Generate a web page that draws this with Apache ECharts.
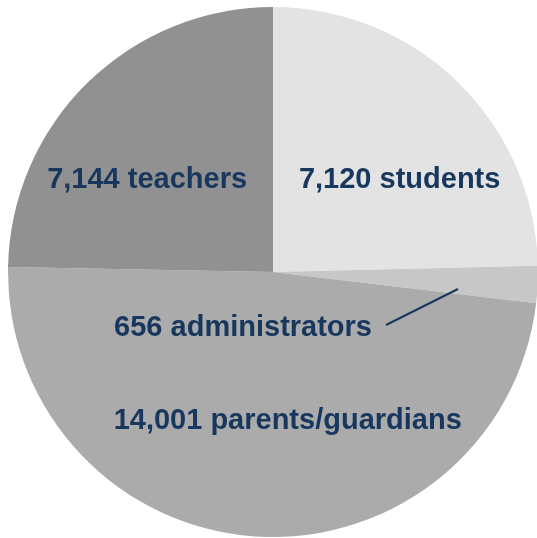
<!DOCTYPE html>
<html>
<head>
<meta charset="utf-8">
<script src="https://cdn.jsdelivr.net/npm/echarts@6/dist/echarts.min.js"></script>
<style>
  html, body { margin: 0; padding: 0; background: #fff; }
  #chart { width: 537px; height: 538px; }
</style>
</head>
<body>
<div id="chart"></div>
<script>
// slice data, clockwise from 12 o'clock
const groups = ['students', 'administrators', 'parents/guardians', 'teachers']
const counts = [7120, 656, 14001, 7144]
const colors = ['#e3e3e3', '#c7c7c7', '#ababab', '#919191']
// label nudges for the inside labels
const labelOffsets = [[32, 5], null, [24, 14], [-31, 5]]

const cx = 273
const cy = 272
const R = 265
const textColor = '#17375e'

const chart = echarts.init(document.getElementById('chart'))

const data = groups.map((g, i) => {
  const item = {
    name: g,
    value: counts[i],
    itemStyle: { color: colors[i] }
  }
  if (labelOffsets[i]) {
    item.label = { position: 'inside', offset: labelOffsets[i] }
  } else {
    item.label = { position: 'outside' }
  }
  return item
})

chart.setOption({
  animation: false,
  // leader line for the small slice, placed relative to the pie centre
  graphic: [
    {
      type: 'line',
      shape: { x1: cx + 185, y1: cy + 17, x2: cx + 113, y2: cy + 53 },
      style: { stroke: textColor, lineWidth: 2 },
      z: 10
    }
  ],
  series: [
    {
      type: 'pie',
      center: [cx, cy],
      radius: R,
      startAngle: 90,
      clockwise: true,
      avoidLabelOverlap: false,
      itemStyle: { borderWidth: 0 },
      emphasis: { disabled: true },
      labelLine: { show: false },
      label: {
        show: true,
        color: textColor,
        fontFamily: 'Liberation Sans',
        fontWeight: 'bold',
        fontSize: 29,
        formatter: p => p.value.toLocaleString('en-US') + ' ' + p.name
      },
      // move the small slice's label into the big slice
      labelLayout: params => {
        if (params.dataIndex !== 1) return {}
        return {
          x: cx + 99,
          y: cy + 56,
          align: 'right',
          verticalAlign: 'middle'
        }
      },
      data: data
    }
  ]
})
</script>
</body>
</html>
